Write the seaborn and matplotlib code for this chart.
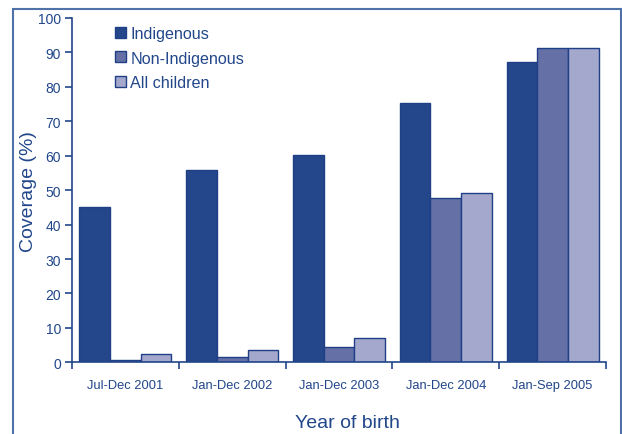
import pandas as pd
import matplotlib.pyplot as plt
import seaborn as sns
from matplotlib.patches import Rectangle
from matplotlib.ticker import FixedLocator

# dados
periodos = ['Jul-Dec 2001', 'Jan-Dec 2002', 'Jan-Dec 2003', 'Jan-Dec 2004', 'Jan-Sep 2005']
grupos = ['Indigenous', 'Non-Indigenous', 'All children']
indigenous = [45.1, 55.9, 60.2, 75.4, 87.3]
non_indigenous = [0.8, 1.4, 4.5, 47.7, 91.4]
all_children = [2.5, 3.5, 7.0, 49.1, 91.2]

cores = ['#24468a', '#6470a6', '#a3a8cc']
azul = '#21468a'

df = pd.DataFrame({
    'periodo': periodos * 3,
    'grupo': [g for g in grupos for _ in periodos],
    'cobertura': indigenous + non_indigenous + all_children,
})

sns.set_style('white')
plt.rcParams['font.family'] = ['Liberation Sans', 'DejaVu Sans']

fig = plt.figure(figsize=(6.22, 4.35), dpi=100)
ax = fig.add_axes([72 / 622, 1 - 363.3 / 435, 534 / 622, 344.3 / 435])

sns.barplot(data=df, x='periodo', y='cobertura', hue='grupo', hue_order=grupos,
            palette=cores, width=0.86, edgecolor='#1f3f86', linewidth=1.0,
            saturation=1, ax=ax)

ax.set_xlim(-0.5, 4.5)
ax.set_ylim(0, 100)
ax.set_yticks(range(0, 101, 10))
ax.tick_params(axis='y', labelsize=10, colors=azul, length=5, width=1.2, direction='out', left=True, pad=3)
ax.tick_params(axis='x', which='major', length=0, labelsize=9.3, labelcolor=azul, pad=12)
ax.xaxis.set_minor_locator(FixedLocator([-0.5, 0.5, 1.5, 2.5, 3.5, 4.5]))
ax.tick_params(axis='x', which='minor', length=5, width=1.2, color=azul, direction='out', bottom=True)

for lado in ['top', 'right']:
    ax.spines[lado].set_visible(False)
for lado in ['left', 'bottom']:
    ax.spines[lado].set_color(azul)
    ax.spines[lado].set_linewidth(1.2)

ax.set_ylabel('Coverage (%)', fontsize=14, color=azul)
ax.yaxis.set_label_coords(-0.0655, 0.5)
ax.set_xlabel('Year of birth', fontsize=14, color=azul)
ax.xaxis.set_label_coords(0.515, -0.15)

leg = ax.legend(loc='upper left', bbox_to_anchor=(0.08, 0.977), frameon=False,
                fontsize=11.6, handlelength=0.67, handleheight=0.67,
                handletextpad=0.3, labelspacing=0.6, borderpad=0, borderaxespad=0)
for t in leg.get_texts():
    t.set_color(azul)

# moldura da figura
fig.patches.append(Rectangle((13 / 622, -0.05), 608 / 622, 1.05 - 10 / 435,
                             transform=fig.transFigure, fill=False,
                             edgecolor='#4f72a8', linewidth=1.5))

plt.savefig('out.png', dpi=100)
plt.close()
